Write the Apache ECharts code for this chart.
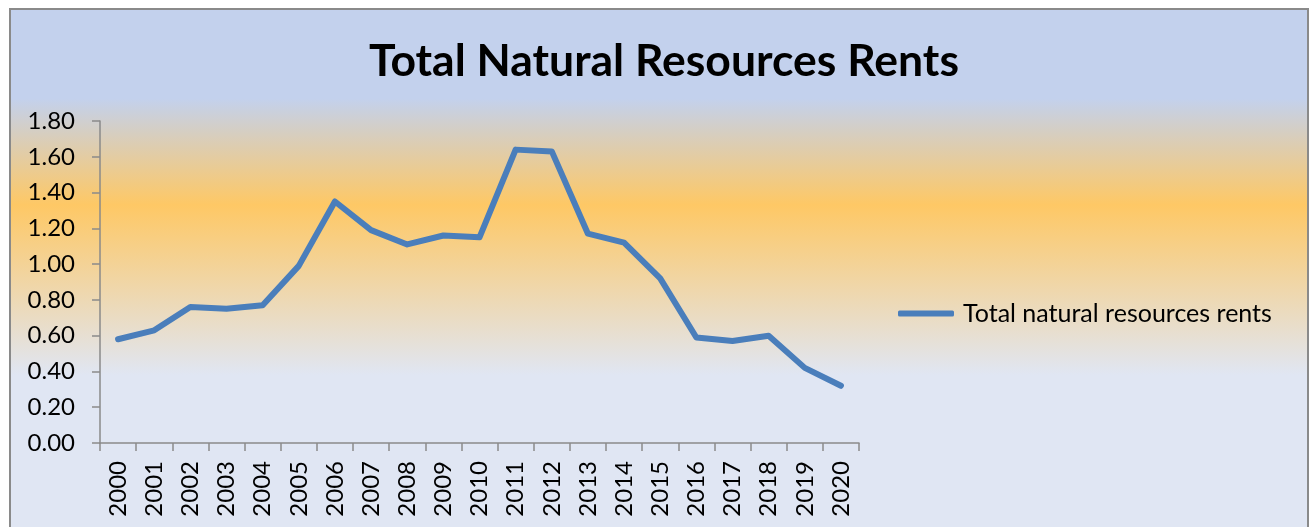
<!DOCTYPE html>
<html>
<head>
<meta charset="utf-8">
<script src="https://cdn.jsdelivr.net/npm/echarts@6/dist/echarts.min.js"></script>
<style>
  html, body { margin: 0; padding: 0; background: #fff; }
  #chart { width: 1312px; height: 527px; }
</style>
</head>
<body>
<div id="chart"></div>
<script>
const years = ["2000", "2001", "2002", "2003", "2004", "2005", "2006", "2007", "2008", "2009", "2010",
  "2011", "2012", "2013", "2014", "2015", "2016", "2017", "2018", "2019", "2020"];
const rents = [0.58, 0.63, 0.76, 0.75, 0.77, 0.99, 1.35, 1.19, 1.11, 1.16, 1.15,
  1.64, 1.63, 1.17, 1.12, 0.92, 0.59, 0.57, 0.60, 0.42, 0.32];
const seriesName = "Total natural resources rents";
const titleText = "Total Natural Resources Rents";

const font = "Lato";
const axisGrey = "#8a8a8a";
const lineBlue = "#4a7ebb";

const chart = echarts.init(document.getElementById("chart"), null, { renderer: "canvas" });
chart.setOption({
  animation: false,
  backgroundColor: "#ffffff",
  textStyle: { fontFamily: font },
  graphic: {
    elements: [{
      type: "rect",
      z: -10,
      silent: true,
      shape: { x: 10, y: 9, width: 1298, height: 530 },
      style: {
        stroke: "#8a8a8a",
        lineWidth: 2,
        fill: {
          type: "linear", x: 0, y: 0, x2: 0, y2: 1,
          colorStops: [
            { offset: 0, color: "#c3d1ed" },
            { offset: 0.17, color: "#c3d1ed" },
            { offset: 0.37, color: "#fec865" },
            { offset: 0.69, color: "#e0e6f3" },
            { offset: 1, color: "#e0e6f3" }
          ]
        }
      }
    }]
  },
  title: {
    text: titleText,
    left: 659,
    textAlign: "center",
    top: 34,
    textStyle: { fontFamily: font, fontWeight: "bold", fontSize: 44.5, color: "#000" }
  },
  legend: {
    left: 898,
    top: 301,
    padding: 0,
    itemWidth: 56,
    itemHeight: 6,
    icon: "roundRect",
    data: [seriesName],
    itemStyle: { color: lineBlue },
    textStyle: { fontFamily: font, fontSize: 25, color: "#000", padding: [0, 0, 0, 4] }
  },
  grid: { left: 100, right: 453, top: 121, bottom: 84, containLabel: false },
  xAxis: {
    type: "category",
    data: years,
    boundaryGap: true,
    axisLine: { lineStyle: { color: axisGrey, width: 1.5 } },
    axisTick: { show: true, length: 8, alignWithLabel: false, lineStyle: { color: axisGrey, width: 1.5 } },
    axisLabel: { rotate: 90, margin: 18, fontSize: 24, color: "#000", fontFamily: font, interval: 0 }
  },
  yAxis: {
    type: "value",
    min: 0,
    max: 1.8,
    interval: 0.2,
    axisLine: { show: true, lineStyle: { color: axisGrey, width: 1.5 } },
    axisTick: { show: true, length: 8, lineStyle: { color: axisGrey, width: 1.5 } },
    splitLine: { show: false },
    axisLabel: {
      margin: 25, fontSize: 24, color: "#000", fontFamily: font,
      formatter: (v) => v.toFixed(2)
    }
  },
  series: [{
    name: seriesName,
    type: "line",
    data: rents,
    symbol: "none",
    lineStyle: { color: lineBlue, width: 6, cap: "round", join: "round" },
    itemStyle: { color: lineBlue }
  }]
});
</script>
</body>
</html>
